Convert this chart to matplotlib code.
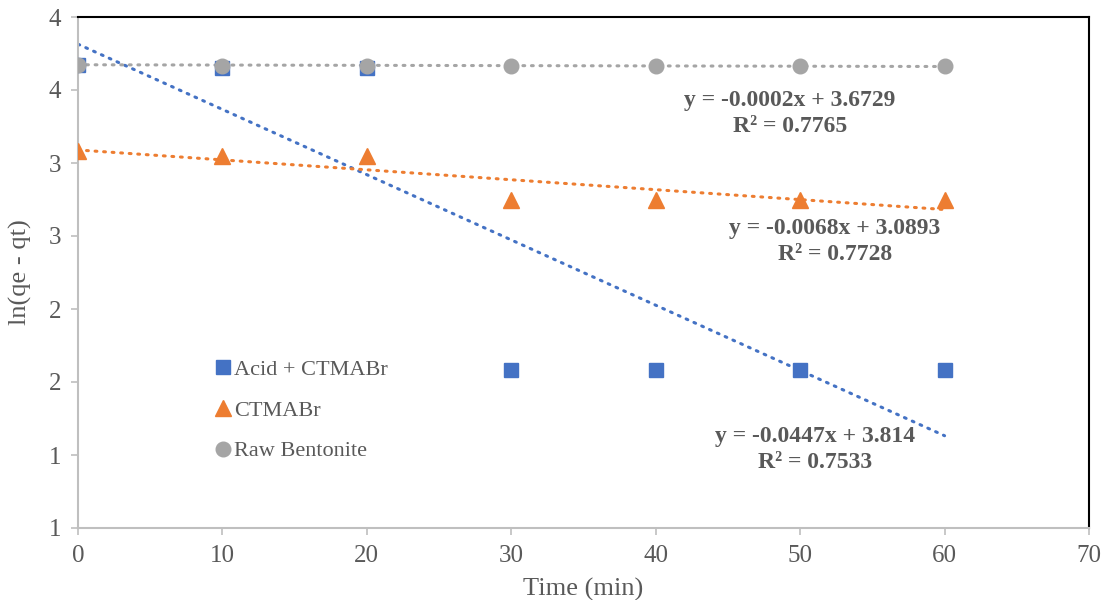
import numpy as np
import matplotlib.pyplot as plt
from matplotlib.ticker import FuncFormatter

# data
time_min = [0, 10, 20, 30, 40, 50, 60]
acid_ctmabr = [3.67, 3.65, 3.65, 1.58, 1.58, 1.58, 1.58]
ctmabr = [3.08, 3.05, 3.05, 2.75, 2.75, 2.75, 2.75]
raw_bentonite = [3.67, 3.667, 3.667, 3.665, 3.665, 3.662, 3.662]

# trendline coefficients (slope, intercept, R²) as printed on the chart
acid_fit = (-0.0447, 3.814, 0.7533)
ctmabr_fit = (-0.0068, 3.0893, 0.7728)
raw_fit = (-0.0002, 3.6729, 0.7765)

blue = "#4472C4"
orange = "#ED7D31"
grey = "#A5A5A5"
txt = "#595959"

plt.rcParams["font.family"] = ["Liberation Serif", "DejaVu Serif"]

fig = plt.figure(figsize=(11.08, 6), dpi=100)
ax = fig.add_axes([78 / 1108, 72 / 600, 1011 / 1108, 511 / 600])

xfit = np.array([0, 60])
for fit, col in [(acid_fit, blue), (ctmabr_fit, orange), (raw_fit, grey)]:
    ax.plot(xfit, fit[0] * xfit + fit[1], color=col, lw=2.2,
            linestyle=(0, (0.6, 2.2)), dash_capstyle="round", zorder=2)

ax.plot(time_min, acid_ctmabr, "s", color=blue, ms=9.5, label="Acid + CTMABr", zorder=3)
ax.plot(time_min, ctmabr, "^", color=orange, ms=11, label="CTMABr", zorder=3)
ax.plot(time_min, raw_bentonite, "o", color=grey, ms=10.5, label="Raw Bentonite", zorder=4)

# equation labels
def eq(fit):
    return f"y = {fit[0]}x + {fit[1]}\nR² = {fit[2]}"

lab_kw = dict(ha="center", va="center", fontsize=17, fontweight="bold", color=txt,
              linespacing=1.3)
ax.text(49.3, 3.34, eq(raw_fit), **lab_kw)
ax.text(52.4, 2.46, eq(ctmabr_fit), **lab_kw)
ax.text(51.0, 1.04, eq(acid_fit), **lab_kw)

ax.set_xlim(0, 70)
ax.set_ylim(0.5, 4.0)
ax.set_xticks(range(0, 71, 10))
ax.set_yticks(np.arange(0.5, 4.01, 0.5))
ax.yaxis.set_major_formatter(FuncFormatter(lambda v, p: f"{int(np.floor(v + 0.5))}"))

for s in ["left", "bottom"]:
    ax.spines[s].set_color("#BFBFBF")
    ax.spines[s].set_linewidth(1.5)
for s in ["top", "right"]:
    ax.spines[s].set_color("black")
    ax.spines[s].set_linewidth(1.5)
ax.tick_params(colors="#BFBFBF", labelcolor=txt, labelsize=18, length=5, width=1.2, pad=7)

ax.set_xlabel("Time (min)", fontsize=19, color=txt, labelpad=8)
ax.set_ylabel("ln(qe - qt)", fontsize=19, color=txt, labelpad=12)

ax.legend(loc="center left", bbox_to_anchor=(0.125, 0.23), frameon=False,
          fontsize=16, labelcolor=txt, handlelength=0.7, handletextpad=0.15,
          labelspacing=0.9, borderpad=0)

fig.savefig("out.png", dpi=100)
